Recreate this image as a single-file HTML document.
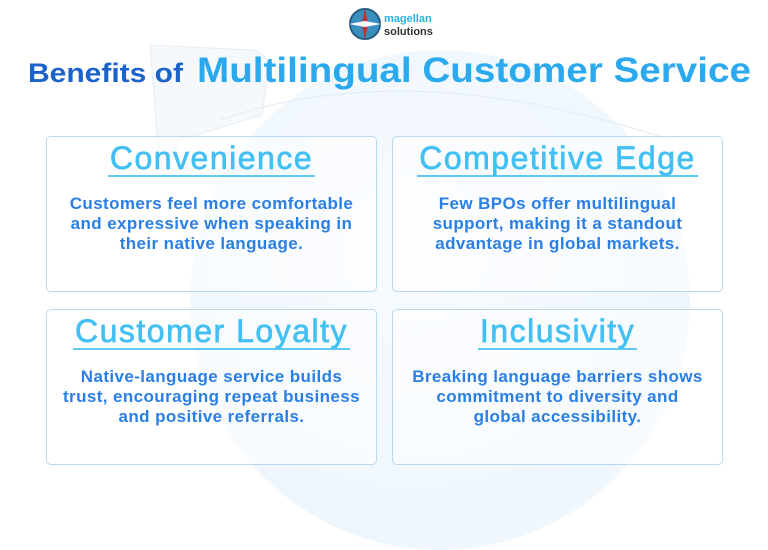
<!DOCTYPE html>
<html><head><style>
body{margin:0;width:768px;height:502px;background:#fff;position:relative;overflow:hidden;font-family:"Liberation Sans",sans-serif}
.globe{position:absolute;left:190px;top:50px;width:500px;height:500px;border-radius:50%;background:radial-gradient(circle at 45% 40%,#f7fbfe,#eef6fd 70%,#fafcff);}
.box{position:absolute;width:329px;height:154px;border:1.5px solid #bcd8ef;border-radius:5px;background:rgba(255,255,255,.55);text-align:center}
.t{display:inline-block;margin-top:4px;font-size:32px;color:#42bff3;letter-spacing:1.5px;-webkit-text-stroke:.7px #42bff3;border-bottom:2px solid #5fc8f4;line-height:34px;padding:0 2px 0}
.d{margin-top:17px;font-size:17px;line-height:20px;color:#2a7fe6;font-weight:bold;letter-spacing:.4px}
</style></head><body>
<div class="globe"></div>
<svg style="position:absolute;left:0;top:0" width="768" height="502">
<path d="M150 45 L250 50 Q270 52 268 72 L262 115 L180 140 L160 170 Z" fill="#f6f9fc" stroke="#e4edf5"/>
<path d="M220 120 Q420 50 700 150" stroke="#e0ecf6" fill="none"/>
<circle cx="365" cy="24" r="15" fill="#3a8fbf" stroke="#2a5d85" stroke-width="2"/>
<polygon points="365,8 368,24 365,40 362,24" fill="#b33"/><polygon points="349,24 365,21 381,24 365,27" fill="#fff"/>
<text x="384" y="22" font-size="11" font-weight="bold" fill="#2ab0dc" font-family="Liberation Sans">magellan</text>
<text x="384" y="35" font-size="11" font-weight="bold" fill="#333" font-family="Liberation Sans">solutions</text>
<text x="28" y="82" font-size="27" font-weight="bold" fill="#1b62c9" font-family="Liberation Sans" textLength="155" lengthAdjust="spacingAndGlyphs">Benefits of</text>
<text x="197" y="82" font-size="35" font-weight="bold" fill="#2aa9ee" font-family="Liberation Sans" textLength="554" lengthAdjust="spacingAndGlyphs">Multilingual Customer Service</text>
</svg>
<div class="box" style="left:46px;top:136px"><div class="t">Convenience</div><div class="d">Customers feel more comfortable<br>and expressive when speaking in<br>their native language.</div></div>
<div class="box" style="left:392px;top:136px"><div class="t">Competitive Edge</div><div class="d">Few BPOs offer multilingual<br>support, making it a standout<br>advantage in global markets.</div></div>
<div class="box" style="left:46px;top:309px"><div class="t">Customer Loyalty</div><div class="d">Native-language service builds<br>trust, encouraging repeat business<br>and positive referrals.</div></div>
<div class="box" style="left:392px;top:309px"><div class="t">Inclusivity</div><div class="d">Breaking language barriers shows<br>commitment to diversity and<br>global accessibility.</div></div>
</body></html>
